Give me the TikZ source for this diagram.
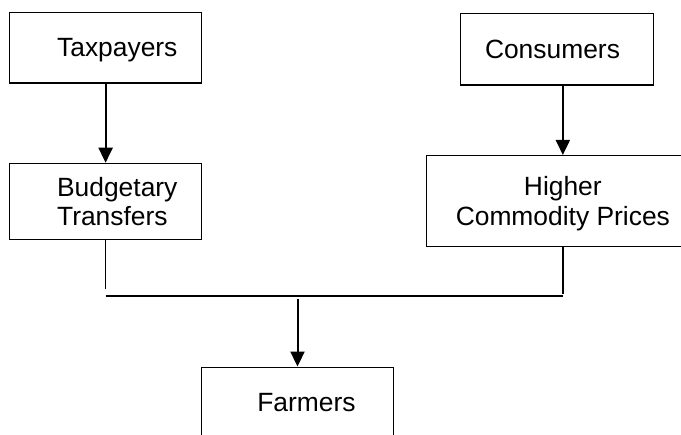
\documentclass[tikz,border=0pt]{standalone}
\usepackage{fontspec}
\setmainfont{Liberation Sans}
\usetikzlibrary{positioning, calc, arrows.meta}

\begin{document}
\begin{tikzpicture}[x=1pt, y=-1pt,
		box/.style={draw, line width=1.5pt, inner sep=0pt, font=\fontsize{26.4}{29.7}\selectfont},
		link/.style={line width=2pt, -{Triangle[length=15pt, width=14pt]}},
		feed/.style={line width=1.4pt},
		bus/.style={line width=2.2pt}]
	\useasboundingbox (0,0) rectangle (681,435);
	\node[box, text depth=0pt, minimum width=192.2pt, minimum height=70.3pt, text width=97pt, align=left] (tax) at (105.6,47.85) {Taxpayers};
	\node[box, minimum width=192.2pt, minimum height=76pt, text width=97pt, align=left] (budget) at (105.6,201.5) {Budgetary\\ Transfers};
	\node[box, text depth=0pt, minimum width=192.6pt, minimum height=71.7pt, text width=144pt, align=left] (cons) at (557,49.15) {Consumers};
	\node[box, text depth=0pt, minimum width=272.3pt, minimum height=91pt, align=center] (hcp) at (562.85,201.2) {Higher\\ Commodity Prices};
	\node[box, text depth=0pt, minimum width=191.6pt, minimum height=69.9pt, text width=80.4pt, align=left] (farm) at (297.5,402.25) {Farmers};

	\draw[link] (tax) -- (budget);
	\draw[link] (hcp.north |- cons.south) -- (hcp);

	\coordinate (lvl) at (0,295.7);
	\coordinate (busL) at (budget.south |- lvl);
	\coordinate (busR) at (hcp.south |- lvl);
	\draw[feed] (budget.south) -- ($(busL)+(0,-6.4)$);
	\draw[feed] (hcp.south) -- ($(busR)+(0,-1.5)$);
	\draw[bus] (busL) -- (busR);
	\draw[link] ($(farm.north |- lvl)+(0,3.6)$) -- (farm);
\end{tikzpicture}
\end{document}
